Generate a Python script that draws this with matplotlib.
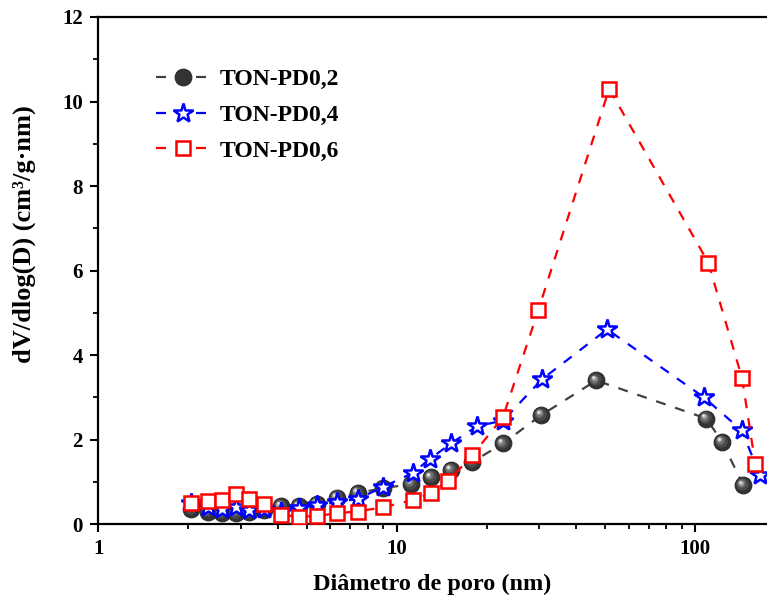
import matplotlib
matplotlib.use("Agg")
import matplotlib.pyplot as plt
from matplotlib.transforms import offset_copy

plt.rcParams['font.family'] = ['Liberation Serif', 'DejaVu Serif']
plt.rcParams['font.weight'] = 'bold'

# pore diameter (nm) and dV/dlog(D) for each sample
x_pd02 = [2.05, 2.33, 2.6, 2.9, 3.2, 3.6, 4.1, 4.7, 5.4, 6.3, 7.4, 9.0,
          11.2, 13.0, 15.2, 17.9, 22.7, 30.5, 46.6, 109, 123, 145]
y_pd02 = [0.36, 0.30, 0.27, 0.27, 0.28, 0.33, 0.42, 0.42, 0.48, 0.63, 0.74, 0.85,
          0.95, 1.11, 1.28, 1.47, 1.91, 2.58, 3.40, 2.50, 1.95, 0.92]

x_pd04 = [2.05, 2.33, 2.6, 2.9, 3.2, 3.6, 4.1, 4.7, 5.4, 6.3, 7.4, 9.0,
          11.3, 12.9, 15.2, 18.6, 22.7, 30.7, 50.7, 107, 143, 165]
y_pd04 = [0.50, 0.40, 0.35, 0.40, 0.33, 0.35, 0.30, 0.38, 0.45, 0.52, 0.60, 0.88,
          1.21, 1.54, 1.91, 2.32, 2.45, 3.43, 4.61, 3.00, 2.22, 1.16]

x_pd06 = [2.05, 2.33, 2.6, 2.9, 3.2, 3.6, 4.1, 4.7, 5.4, 6.3, 7.4, 9.0,
          11.3, 13.0, 14.9, 17.9, 22.7, 29.8, 51.5, 110.6, 143.6, 159]
y_pd06 = [0.50, 0.55, 0.57, 0.71, 0.59, 0.47, 0.22, 0.18, 0.19, 0.26, 0.30, 0.40,
          0.57, 0.73, 1.02, 1.63, 2.53, 5.06, 10.30, 6.19, 3.45, 1.42]

labels = ['TON-PD0,2', 'TON-PD0,4', 'TON-PD0,6']

fig = plt.figure(figsize=(7.67, 6.06), dpi=100)
ax = fig.add_axes([0.128, 0.135, 0.872, 0.837])

dash = (4.5, 4.5)
# gray spheres (stacked circles give the shading)
l1, = ax.plot(x_pd02, y_pd02, color='#404040', lw=1.6, dashes=dash,
              marker='o', ms=12, mfc='#333333', mec='#2a2a2a', mew=0.8,
              label=labels[0], zorder=3)
for ms, c, d in [(9, '#4a4a4a', 0.8), (6, '#707070', 1.4), (3.5, '#a8a8a8', 1.9), (1.8, '#eeeeee', 2.2)]:
    tr = offset_copy(ax.transData, fig=fig, x=-d, y=d, units='points')
    ax.plot(x_pd02, y_pd02, ls='none', marker='o', ms=ms, mfc=c, mec='none',
            transform=tr, zorder=3.1)

l2, = ax.plot(x_pd04, y_pd04, color='#0000ff', lw=1.6, dashes=dash,
              marker='*', ms=15, mfc='white', mec='#0000ff', mew=1.8,
              label=labels[1], zorder=4)
l3, = ax.plot(x_pd06, y_pd06, color='#ff0000', lw=1.6, dashes=dash,
              marker='s', ms=10, mfc='white', mec='#ff0000', mew=1.8,
              label=labels[2], zorder=5)

ax.set_xscale('log')
ax.set_xlim(1, 174)
ax.set_ylim(0, 12)
ax.set_yticks([0, 2, 4, 6, 8, 10, 12])
ax.set_yticks([1, 3, 5, 7, 9, 11], minor=True)
ax.set_xticks([1, 10, 100])
ax.set_xticklabels(['1', '10', '100'])

ax.tick_params(which='major', direction='out', length=6, width=1.5, labelsize=15, pad=5)
ax.tick_params(which='minor', direction='out', length=3.5, width=1.3)
ax.tick_params(axis='x', which='minor', labelbottom=False)
for s in ['left', 'bottom', 'top']:
    ax.spines[s].set_linewidth(1.6)
ax.spines['right'].set_visible(False)

ax.set_xlabel('Diâmetro de poro (nm)', fontsize=17.5, fontweight='bold', labelpad=10)
ax.set_ylabel('dV/dlog(D) (cm³/g·nm)', fontsize=19, fontweight='bold')
ax.yaxis.set_label_coords(-0.093, 0.572)

ax.legend(handles=[l1, l2, l3], loc='upper left', bbox_to_anchor=(0.055, 0.94),
          frameon=False, fontsize=17, handlelength=2.3, labelspacing=0.6,
          handletextpad=0.4, numpoints=1)

fig.savefig('out.png', dpi=100)
